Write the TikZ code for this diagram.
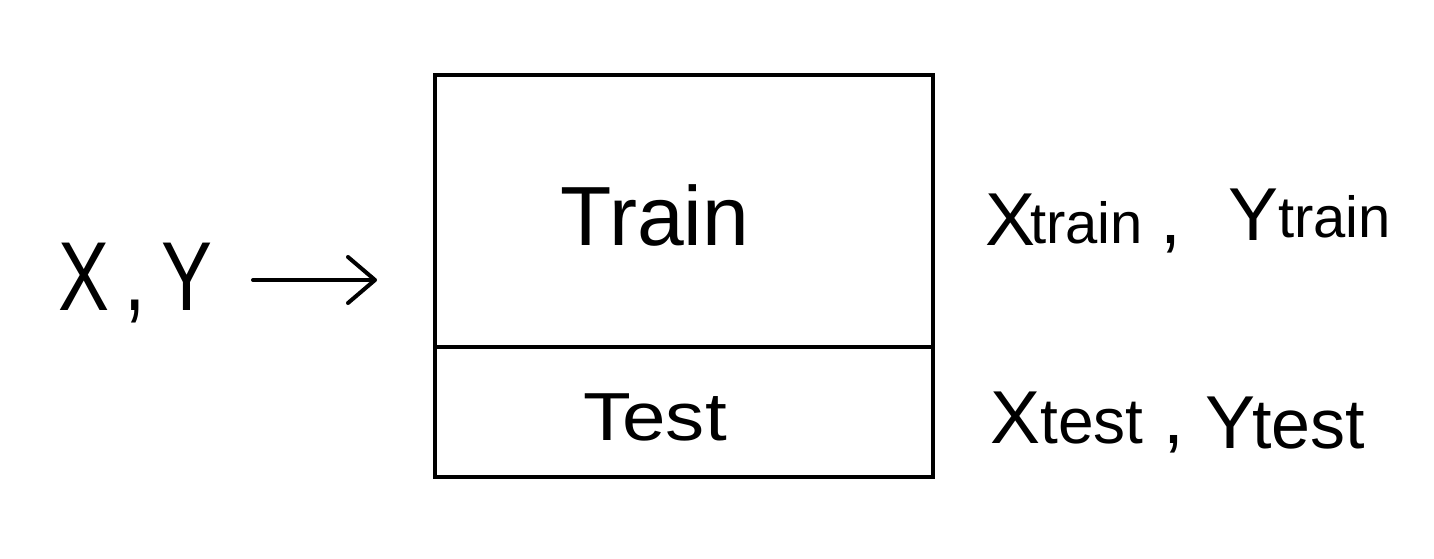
\documentclass[tikz,border=0pt]{standalone}
\usepackage{fontspec}
\setmainfont{Liberation Sans}
\usetikzlibrary{arrows.meta}
\tikzset{
  ink/.style={line width=4pt, black, line cap=round, line join=round},
  lbl/.style={inner sep=0pt, anchor=base west},
}
\newcommand{\bigf}{\fontsize{75}{80}\selectfont}
\begin{document}
\begin{tikzpicture}[x=1pt,y=-1pt]
\useasboundingbox (0,0) rectangle (1434,558);
\fill[white] (0,0) rectangle (1434,558);
% box
\coordinate (tl) at (435,75);
\coordinate (br) at (933,477);
\coordinate (dl) at (435,347);
\coordinate (dr) at (933,347);
\draw[ink, line cap=butt, line join=miter] (tl) rectangle (br);
\draw[ink, line cap=butt] (dl) -- (dr);
% box texts
\node[lbl, anchor=base] (train) at (655,245) {\fontsize{84}{90}\selectfont Train};
\node[lbl, anchor=base] (test) at (655,440) {\scalebox{1.15}[1]{\fontsize{68}{70}\selectfont Test}};
% input
\node[lbl] (xy) at (58,310) {\scalebox{0.78}[1]{\fontsize{98}{100}\selectfont X\hspace{20pt},\hspace{20pt}Y}};
% train labels
\node[lbl] (xtr) at (985,245) {\bigf X};
\node[lbl] (xtrs) at (1030,243) {\fontsize{58}{60}\selectfont train};
\node[lbl] (ctr) at (1160,243) {\bigf ,};
\node[lbl] (ytr) at (1228,240) {\bigf Y};
\node[lbl] (ytrs) at (1278,237) {\fontsize{58}{60}\selectfont train};
% test labels
\node[lbl] (xte) at (990,443) {\bigf X};
\node[lbl] (xtes) at (1040,443) {\fontsize{64}{66}\selectfont test};
\node[lbl] (cte) at (1163,443) {\bigf ,};
\node[lbl] (yte) at (1205,448) {\bigf Y};
\node[lbl] (ytes) at (1252,448) {\fontsize{70}{72}\selectfont test};
% arrow
\coordinate (a0) at (253,280);
\coordinate (a1) at (377,280);
\draw[ink, -{Straight Barb[length=27pt,width=46pt,line cap=round,line join=round]}] (a0) -- (a1);
\end{tikzpicture}
\end{document}
